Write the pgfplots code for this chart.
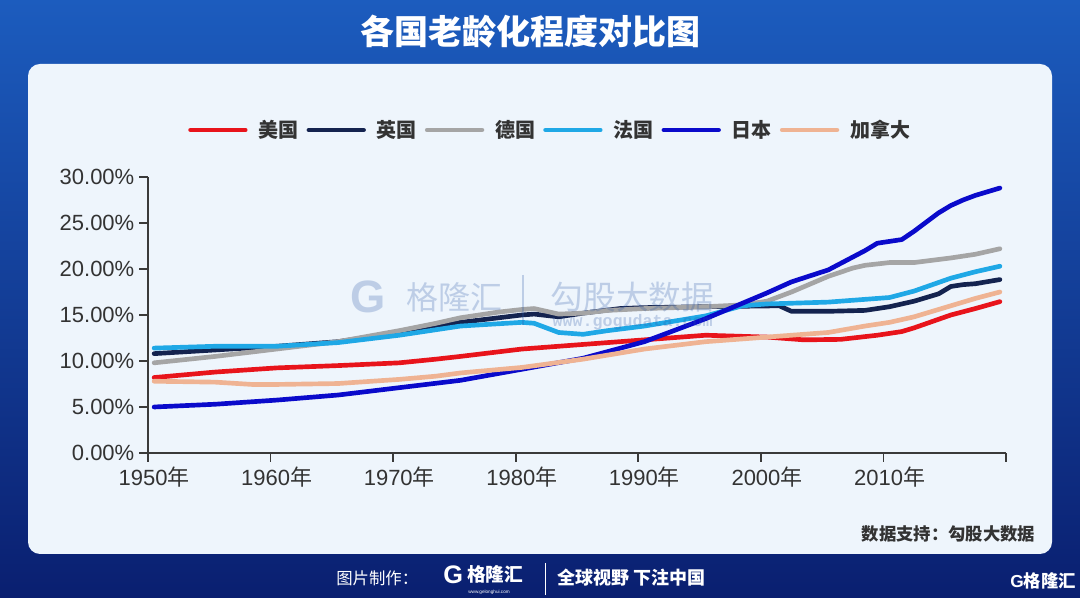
\documentclass[border=0pt]{standalone}
\usepackage{pgfplots}
\pgfplotsset{compat=1.18}
\usepackage{fontspec}
\setmainfont{Liberation Sans}
\setmonofont{Liberation Mono}
\newfontfamily\cjk{Noto Sans CJK SC}
\definecolor{cUS}{HTML}{E8141B}
\definecolor{cUK}{HTML}{14234F}
\definecolor{cDE}{HTML}{A5A5A5}
\definecolor{cFR}{HTML}{1FA8E6}
\definecolor{cJP}{HTML}{0A0ACB}
\definecolor{cCA}{HTML}{EFB393}
\definecolor{panel}{HTML}{EEF5FC}
\definecolor{bgtop}{HTML}{1C5CBE}
\definecolor{bgmid}{HTML}{0C3A9E}
\definecolor{bgbot}{HTML}{0A1F70}
\definecolor{tk}{HTML}{333333}
\definecolor{tkax}{HTML}{3A3A3A}
\definecolor{wm}{HTML}{2B58A8}
\begin{document}
\begin{tikzpicture}[x=0.75pt,y=0.75pt]
\shade[top color=bgtop, middle color=bgmid, bottom color=bgbot] (0,0) rectangle (1080,598);
\fill[panel, rounded corners=9pt] (28,44) rectangle (1052,534);
\node[text=white, font=\cjk\bfseries\fontsize{25.5}{25.5}\selectfont] at (530,566) {各国老龄化程度对比图};
\begin{axis}[
  at={(111pt,108.75pt)}, anchor=south west,
  scale only axis, width=643.5pt, height=207pt,
  xmin=1949.5, xmax=2019.5, ymin=0, ymax=30,
  axis x line*=bottom, axis y line*=left,
  axis line style={draw=tkax, line width=1.3pt},
  xtick={1950,1960,...,2010},
  xticklabels={1950{\cjk 年},1960{\cjk 年},1970{\cjk 年},1980{\cjk 年},1990{\cjk 年},2000{\cjk 年},2010{\cjk 年}},
  minor xtick={1949.5,1959.5,...,2019.5},
  ytick={0,5,...,30},
  /pgf/number format/assume math mode=true,
  yticklabel={\pgfmathprintnumber[fixed,fixed zerofill,precision=2]{\tick}\%},
  tick align=outside,
  major tick length=6.75pt, minor tick length=6.75pt,
  major x tick style={draw=none},
  minor x tick style={draw=tkax, line width=1.2pt},
  major y tick style={draw=tkax, line width=1.2pt},
  tick label style={font=\fontsize{16.5}{16.5}\selectfont, text=tk},
  every axis plot/.append style={line width=3.5pt, line join=round, line cap=round},
  legend style={at={(0.0466,1.1703)}, anchor=west, draw=none, fill=none, inner sep=0pt,
    nodes={inner sep=0pt}, font=\cjk\bfseries\fontsize{15}{15}\selectfont, text=tk,
    /tikz/every odd column/.append style={column sep=8.25pt},
    /tikz/every even column/.append style={column sep=6pt}},
  legend columns=6,
  legend image code/.code={\draw[#1] (0pt,0pt) -- (41pt,0pt);},
]
\addplot[cUS] coordinates {(1950,8.2)(1955,8.8)(1960,9.25)(1965,9.5)(1970,9.8)(1973,10.2)(1975,10.5)(1980,11.3)(1985,11.8)(1990,12.3)(1995,12.8)(2000,12.6)(2003,12.3)(2006,12.35)(2009,12.8)(2011,13.2)(2012,13.6)(2015,15.0)(2017,15.7)(2019,16.45)};
\addlegendentry{美国}
\addplot[cUK] coordinates {(1950,10.8)(1955,11.2)(1960,11.6)(1965,12.1)(1970,13.1)(1973,13.8)(1975,14.2)(1980,15.0)(1981,15.1)(1983,14.8)(1985,15.2)(1988,15.7)(1990,15.8)(1995,15.9)(2001,16.0)(2002,15.4)(2005,15.4)(2008,15.5)(2010,15.9)(2012,16.5)(2014,17.3)(2015,18.1)(2016,18.3)(2017,18.4)(2019,18.85)};
\addlegendentry{英国}
\addplot[cDE] coordinates {(1950,9.8)(1955,10.5)(1960,11.3)(1965,12.1)(1970,13.3)(1973,14.1)(1975,14.7)(1978,15.3)(1980,15.6)(1981,15.7)(1983,15.1)(1985,15.2)(1987,15.5)(1990,15.7)(1995,15.9)(1998,16.1)(2000,16.5)(2002,17.5)(2005,19.2)(2007,20.1)(2008,20.4)(2010,20.7)(2012,20.7)(2015,21.2)(2017,21.6)(2019,22.2)};
\addlegendentry{德国}
\addplot[cFR] coordinates {(1950,11.4)(1955,11.6)(1960,11.6)(1965,12.0)(1970,12.8)(1973,13.4)(1975,13.8)(1980,14.2)(1981,14.1)(1983,13.1)(1985,12.9)(1987,13.3)(1990,13.8)(1995,14.9)(1998,16.0)(2000,16.2)(2005,16.4)(2008,16.7)(2010,16.9)(2012,17.6)(2015,19.0)(2017,19.7)(2019,20.3)};
\addlegendentry{法国}
\addplot[cJP] coordinates {(1950,5.0)(1955,5.3)(1960,5.75)(1965,6.3)(1970,7.1)(1975,7.9)(1980,9.1)(1985,10.3)(1990,12.1)(1995,14.6)(2000,17.4)(2002,18.6)(2005,19.9)(2007,21.3)(2008,22.0)(2009,22.8)(2011,23.2)(2012,24.1)(2013,25.1)(2014,26.1)(2015,26.9)(2016,27.5)(2017,28.0)(2018,28.4)(2019,28.8)};
\addlegendentry{日本}
\addplot[cCA] coordinates {(1950,7.8)(1955,7.7)(1958,7.45)(1960,7.45)(1965,7.55)(1970,8.0)(1973,8.35)(1975,8.7)(1980,9.3)(1985,10.2)(1990,11.3)(1995,12.1)(2000,12.6)(2005,13.1)(2008,13.8)(2010,14.2)(2012,14.8)(2015,16.0)(2017,16.8)(2019,17.5)};
\addlegendentry{加拿大}
\end{axis}
% watermark
\begin{scope}[opacity=0.25, text opacity=0.25]
\node[anchor=west, text=wm, font=\bfseries\fontsize{34}{34}\selectfont] at (346,301) {G};
\node[anchor=west, text=wm, font=\cjk\fontsize{24}{24}\selectfont] at (402,301) {格隆汇};
\draw[wm, line width=0.8pt] (523,323) -- (523,273);
\node[anchor=west, text=wm, font=\cjk\fontsize{24.5}{24.5}\selectfont] at (546,301) {勾股大数据};
\node[anchor=west, text=wm, font=\ttfamily\bfseries\fontsize{12.5}{12.5}\selectfont] at (548,276) {www.gogudata.com};
\end{scope}
\node[anchor=east, text=tk, font=\cjk\bfseries\fontsize{13}{13}\selectfont] at (1040,64) {数据支持：勾股大数据};
% footer
\node[anchor=west, text=white, font=\cjk\fontsize{12.3}{12.3}\selectfont, inner sep=0pt] at (336,20) {图片制作：};
\node[anchor=west, text=white, font=\bfseries\fontsize{19}{19}\selectfont, inner sep=0pt] at (443,23) {G};
\node[anchor=west, text=white, font=\cjk\bfseries\fontsize{14}{14}\selectfont, inner sep=0pt] at (467,24) {格隆汇};
\node[anchor=west, text=white, font=\fontsize{3.5}{3.5}\selectfont, inner sep=0pt] at (468,6) {www.gelonghui.com};
\draw[white, line width=0.6pt] (545,35) -- (545,3);
\node[anchor=west, text=white, font=\cjk\bfseries\fontsize{13.5}{13.5}\selectfont, inner sep=0pt] at (557,20) {全球视野 下注中国};
\node[anchor=east, text=white, font=\cjk\bfseries\fontsize{13}{13}\selectfont, inner sep=0pt] at (1076,17) {{\bfseries\rmfamily G}格隆汇};
\end{tikzpicture}
\end{document}
